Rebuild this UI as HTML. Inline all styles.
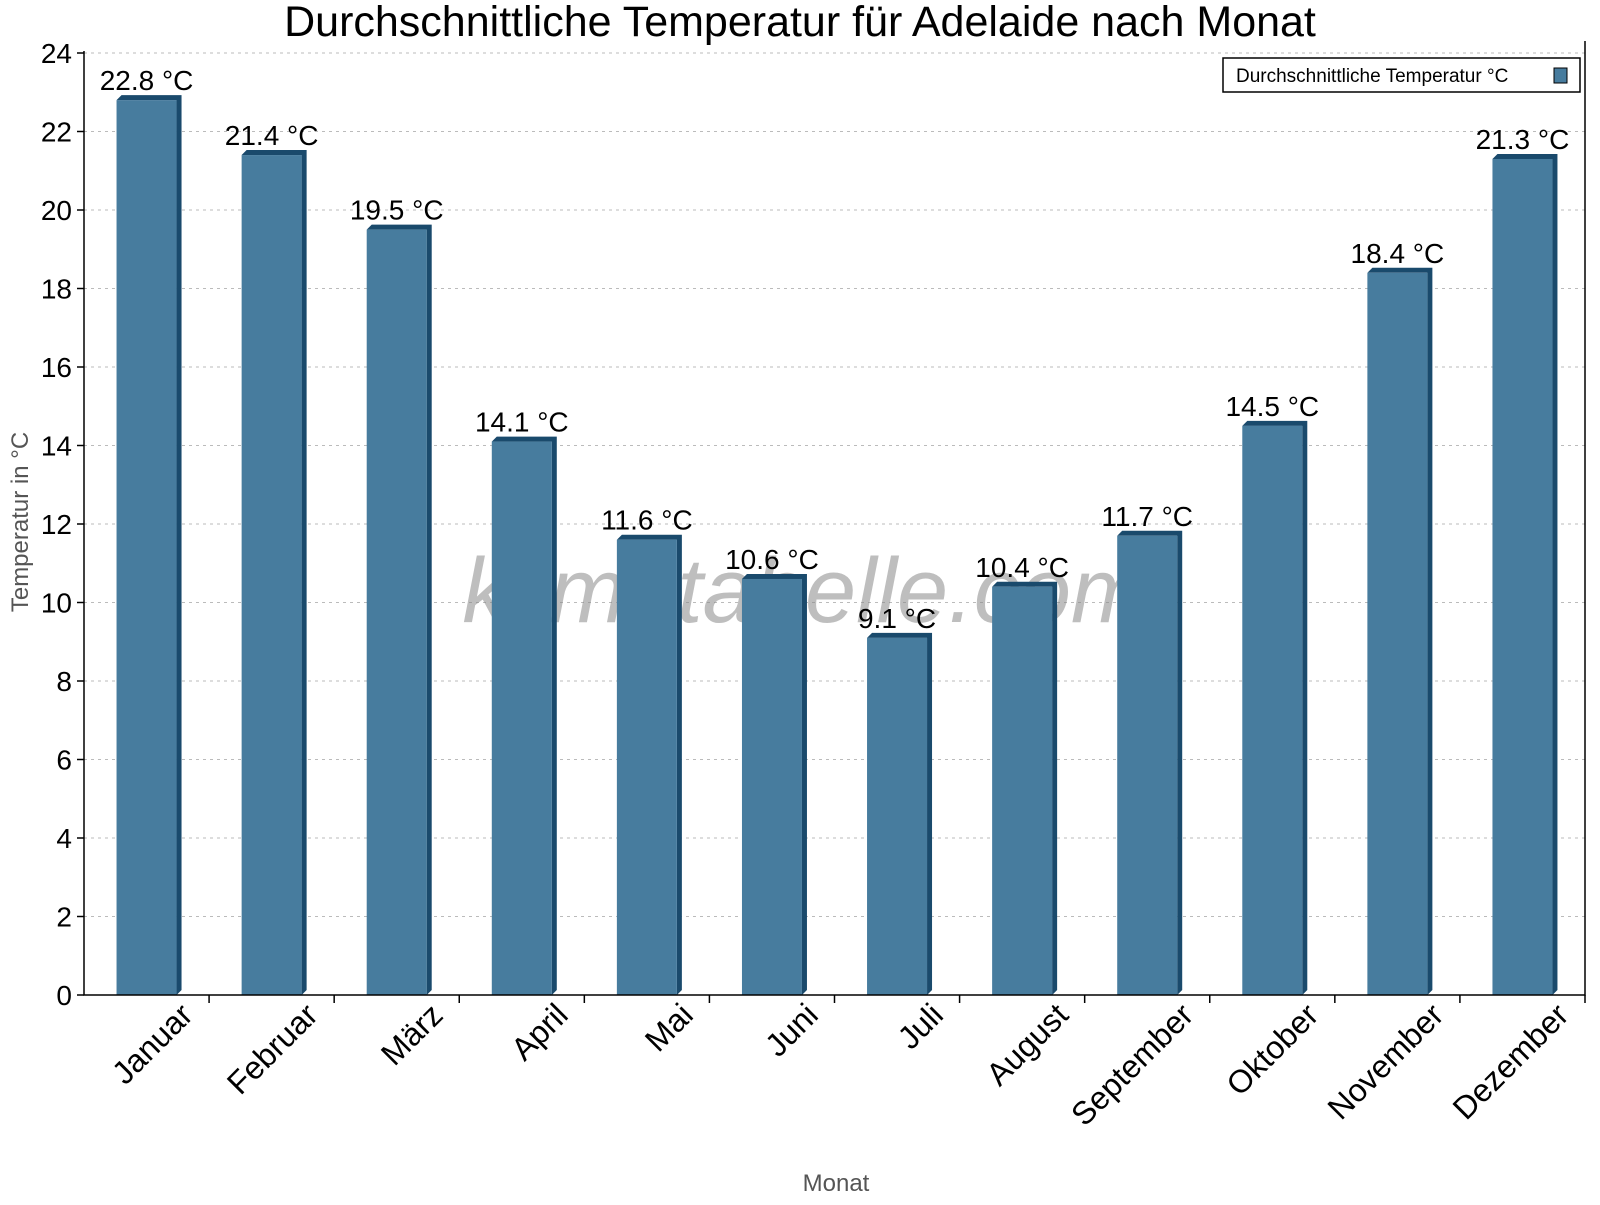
<!DOCTYPE html>
<html><head><meta charset="utf-8"><style>
body{margin:0;background:#fff}
svg{font-family:"Liberation Sans",sans-serif}
</style></head><body>
<svg id="c" width="1600" height="1200">
<text x="800" y="36" font-size="43" text-anchor="middle">Durchschnittliche Temperatur für Adelaide nach Monat</text>
<g id="grid"></g>
<text x="805" y="622" font-size="92" font-style="italic" fill="#888" fill-opacity="0.55" text-anchor="middle">klimatabelle.com</text>
<g id="bars"></g>
<g id="axes"></g>
<text transform="translate(28,522) rotate(-90)" font-size="24" fill="#555" text-anchor="middle">Temperatur in °C</text>
<text x="836" y="1191" font-size="24" fill="#555" text-anchor="middle">Monat</text>
<g>
<rect x="1223" y="58" width="357" height="34" fill="#fff" stroke="#000" stroke-width="1.5"/>
<text x="1236" y="82" font-size="19">Durchschnittliche Temperatur °C</text>
<rect x="1554" y="68" width="13" height="15" fill="#477c9e" stroke="#000" stroke-width="1"/>
</g>
</svg>
<script>
const months=["Januar","Februar","März","April","Mai","Juni","Juli","August","September","Oktober","November","Dezember"];
const temps=[22.8,21.4,19.5,14.1,11.6,10.6,9.1,10.4,11.7,14.5,18.4,21.3];
const yTicks=[0,2,4,6,8,10,12,14,16,18,20,22,24];
const X0=84,X1=1585,Y0=995,Y1=53,YMAX=24;
const bw=(X1-X0)/months.length;
const xc=i=>X0+bw*(i+0.5);
const y=v=>Y0-(v/YMAX)*(Y0-Y1);
const NS="http://www.w3.org/2000/svg";
function mk(t,a,p){const e=document.createElementNS(NS,t);for(const k in a)e.setAttribute(k,a[k]);p.appendChild(e);return e;}
const grid=document.getElementById('grid'),bars=document.getElementById('bars'),axes=document.getElementById('axes');
yTicks.forEach(v=>{
 if(v>0){const g=mk('line',{x1:X0,x2:X1,y1:y(v),y2:y(v),stroke:'#bbb','stroke-dasharray':'3,4'},grid);
 
 }
 const t=mk('line',{x1:X0-7,x2:X0,y1:y(v),y2:y(v),stroke:'#000','stroke-width':1.5},axes);
 
 
 const l=mk('text',{x:X0-12,y:y(v)+10,'font-size':28,'text-anchor':'end'},axes);
 l.textContent=v;
 
 
});
const W=60,D=5;
temps.forEach((v,i)=>{
 const cx=xc(i),x=cx-W/2,top=y(v);
 const g=mk('g',{},bars);
 
 
 mk('polygon',{points:`${x},${top} ${x+D},${top-D} ${x+W+D},${top-D} ${x+W+D},${Y0-D} ${x+W},${Y0} ${x+W},${top}`,fill:'#1a4a6c'},g);
 mk('rect',{x:x,y:top,width:W,height:Y0-top,fill:'#477c9e'},g);
 const l=mk('text',{x:cx,y:top-10,'font-size':28,'text-anchor':'middle'},bars);
 l.textContent=v.toFixed(1)+' °C';
 
 
 const t=mk('line',{x1:X0+bw*(i+1),x2:X0+bw*(i+1),y1:Y0,y2:Y0+8,stroke:'#000','stroke-width':1.5},axes);
 
 
 const ml=mk('text',{transform:`translate(${cx+48},${Y0+22}) rotate(-45)`,'font-size':32,'text-anchor':'end'},axes);
 ml.textContent=months[i];
 
 
});
const ax=mk('polyline',{points:`${X0},${Y1-2} ${X0},${Y0} ${X1},${Y0} ${X1},${Y1-12}`,fill:'none',stroke:'#000','stroke-width':1.5},axes);


</script>
</body></html>
